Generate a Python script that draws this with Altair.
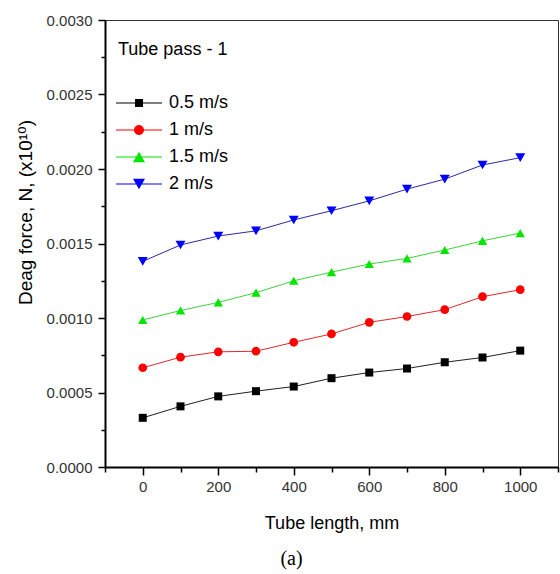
import altair as alt
import pandas as pd

# Tube length positions (mm)
lengths = [0, 100, 200, 300, 400, 500, 600, 700, 800, 900, 1000]

# Drag force per inlet velocity
speeds = ["0.5 m/s", "1 m/s", "1.5 m/s", "2 m/s"]
force_05 = [0.00033, 0.000407, 0.000474, 0.000509, 0.00054, 0.000596,
            0.000634, 0.000661, 0.000703, 0.000735, 0.000781]
force_1 = [0.000666, 0.000737, 0.000773, 0.000777, 0.000837, 0.000893,
           0.000971, 0.00101, 0.001056, 0.001143, 0.00119]
force_15 = [0.000987, 0.00105, 0.001105, 0.00117, 0.00125, 0.001308,
            0.001362, 0.0014, 0.001456, 0.001518, 0.00157]
force_2 = [0.00138, 0.00149, 0.00155, 0.001585, 0.001658, 0.00172,
           0.001786, 0.001865, 0.001932, 0.002027, 0.002076]

x_major = [0, 200, 400, 600, 800, 1000]
x_minor = [-100, 100, 300, 500, 700, 900, 1100]
y_major = [0.0, 0.0005, 0.001, 0.0015, 0.002, 0.0025, 0.003]
y_minor = [0.00025, 0.00075, 0.00125, 0.00175, 0.00225, 0.00275]

rows = []
for name, vals in zip(speeds, [force_05, force_1, force_15, force_2]):
    for xv, yv in zip(lengths, vals):
        rows.append({"length": xv, "force": yv, "speed": name})
df = pd.DataFrame(rows)

FONT = "Liberation Sans, Arial, DejaVu Sans"
point_colors = ["#000000", "#ff0000", "#00e600", "#0000ff"]
line_colors = ["#202020", "#e02828", "#3cd23c", "#2a2aa0"]
marker_shapes = ["square", "circle", "triangle-up", "triangle-down"]
marker_sizes = [64, 100, 144, 144]

# legend glyphs: a short line with the series marker on it (units of 5 px)
bar = "M-2.2,-0.1 H7.0 V0.1 H-2.2 Z "
legend_paths = [
    bar + "M1.6,-0.8 H3.2 V0.8 H1.6 Z",
    bar + "M3.4,0 A1,1 0 1,1 1.4,0 A1,1 0 1,1 3.4,0 Z",
    bar + "M2.4,-1.04 L3.6,1.04 L1.2,1.04 Z",
    bar + "M1.2,-1.04 L3.6,-1.04 L2.4,1.04 Z",
]

xscale = alt.Scale(domain=[-100, 1100], nice=False, zero=False)
yscale = alt.Scale(domain=[0, 0.003], nice=False, zero=False)

base = alt.Chart(df)

lines = base.mark_line(strokeWidth=1).encode(
    x=alt.X("length:Q", scale=xscale, axis=alt.Axis(
        orient="bottom", values=x_major, format="d", title="Tube length, mm",
        labelFont=FONT, labelFontSize=15, labelColor="#333333", labelPadding=4,
        tickSize=8, tickWidth=1.5, tickColor="black",
        domainWidth=2, domainColor="black",
        titleFont=FONT, titleFontSize=18, titleFontWeight="normal", titleColor="black",
        titleBaseline="middle", titleY=56)),
    y=alt.Y("force:Q", scale=yscale, axis=alt.Axis(
        orient="left", values=y_major, format=".4f",
        title="Deag force, N, (x10¹⁰)",
        labelFont=FONT, labelFontSize=15, labelColor="#333333", labelPadding=6,
        tickSize=7, tickWidth=1.5, tickColor="black",
        domainWidth=2, domainColor="black",
        titleFont=FONT, titleFontSize=19, titleFontWeight="normal", titleColor="black",
        titleAngle=-90, titleAlign="center", titleBaseline="middle",
        titleX=-80, titleY=192)),
    color=alt.Color("speed:N", scale=alt.Scale(domain=speeds, range=line_colors), legend=None),
    detail="speed:N",
)

points = base.mark_point(filled=True, opacity=1).encode(
    x=alt.X("length:Q", scale=xscale, axis=alt.Axis(
        orient="bottom", values=x_minor, labels=False, title=None, domain=False,
        tickSize=5, tickWidth=1.5, tickColor="black")),
    y=alt.Y("force:Q", scale=yscale, axis=alt.Axis(
        orient="left", values=y_minor, labels=False, title=None, domain=False,
        tickSize=4, tickWidth=1.5, tickColor="black")),
    color=alt.Color("speed:N", scale=alt.Scale(domain=speeds, range=point_colors), legend=None),
    shape=alt.Shape("speed:N", scale=alt.Scale(domain=speeds, range=marker_shapes), legend=None),
    size=alt.Size("speed:O", scale=alt.Scale(domain=speeds, range=marker_sizes), legend=None),
)

legend_props = dict(
    title="Tube pass - 1", orient="none", legendX=13, legendY=21,
    titleFont=FONT, titleFontSize=18, titleFontWeight="normal", titleColor="black",
    titlePadding=35, labelFont=FONT, labelFontSize=18, labelColor="black",
    labelOffset=33, symbolSize=100, symbolStrokeWidth=0, symbolOpacity=1,
    rowPadding=9, padding=0,
)

legend_layer = base.mark_point(filled=True, opacity=1).encode(
    x=alt.X("length:Q", scale=xscale, axis=None),
    y=alt.Y("force:Q", scale=yscale, axis=None),
    color=alt.Color("speed:N", scale=alt.Scale(domain=speeds, range=point_colors),
                    legend=alt.Legend(**legend_props)),
    shape=alt.Shape("speed:N", scale=alt.Scale(domain=speeds, range=legend_paths),
                    legend=alt.Legend(**legend_props)),
).transform_filter("false")

chart = alt.layer(lines, points, legend_layer).resolve_scale(
    color="independent", shape="independent"
).resolve_axis(
    x="independent", y="independent"
).properties(
    width=453, height=447,
    padding={"left": 105, "top": 20, "right": 2, "bottom": 107},
    autosize=alt.AutoSizeParams(type="none"),
    title=alt.TitleParams("(a)", orient="bottom", anchor="middle", frame="group",
                          font="Liberation Serif", fontSize=20, fontWeight="normal",
                          color="black", dx=-40, offset=17),
).configure_view(
    stroke="#333333", strokeWidth=1
).configure_axis(
    grid=False
)

chart.save("out.html", embed_options={"renderer": "svg", "actions": False})
